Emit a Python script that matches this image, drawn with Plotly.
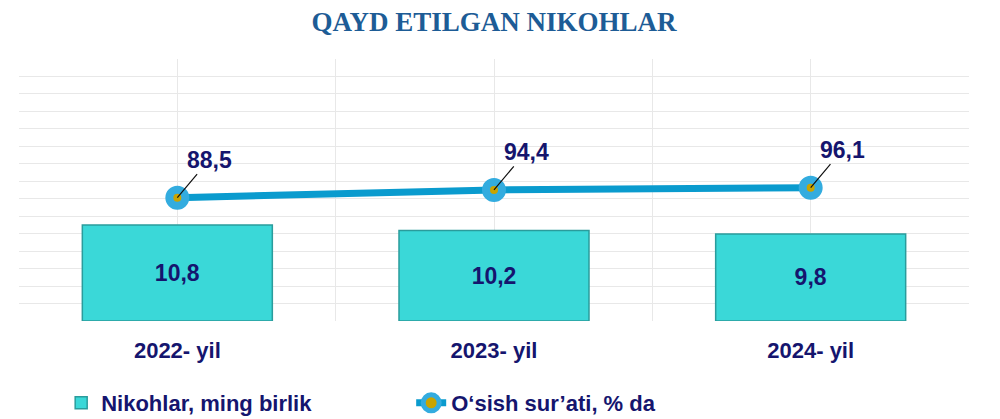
import plotly.graph_objects as go

# ---- data ----
categories = ["2022- yil", "2023- yil", "2024- yil"]
marriages = [10.8, 10.2, 9.8]          # Nikohlar, ming birlik
growth = [88.5, 94.4, 96.1]            # O'sish sur'ati, % da

bar_name = "Nikohlar, ming birlik"
line_name = "O\u2018sish sur\u2019ati, % da"
title_text = "QAYD ETILGAN NIKOHLAR"

NAVY = "#15156E"
FONT = "Liberation Sans, Arial, sans-serif"
GRID = "#E8E8E8"

fig = go.Figure()

fig.add_trace(go.Bar(
    x=categories, y=marriages, name=bar_name,
    width=0.6,
    marker=dict(color="#3AD8D8", line=dict(color="#2A9C9C", width=1.5)),
    texttemplate="%{y:.1f}", textposition="inside", insidetextanchor="middle",
    textangle=0,
    textfont=dict(family=FONT, size=23, color=NAVY, weight="bold"),
    xaxis="x", yaxis="y",
))

fig.add_trace(go.Scatter(
    x=categories, y=growth, name=line_name, mode="lines+markers",
    line=dict(color="#0A9BCE", width=7),
    marker=dict(size=16, color="#C9A400", line=dict(color="#33ACDF", width=8)),
    xaxis="x2", yaxis="y2",
))

for c, v in zip(categories, growth):
    fig.add_annotation(
        x=c, y=v, xref="x2", yref="y2",
        text=f"{v:.1f}".replace(".", ","),
        showarrow=True, arrowhead=0, arrowwidth=1.2, arrowcolor="#111111",
        ax=32, ay=-38, standoff=0,
        font=dict(family=FONT, size=23, color=NAVY, weight="bold"),
    )

W, H = 992, 411   # page body has an 8px margin
fig.update_layout(
    width=W, height=H,
    margin=dict(l=11, r=31, t=51, b=98, autoexpand=False),
    paper_bgcolor="white", plot_bgcolor="white",
    separators=", ",
    title=dict(text=title_text, x=0.5, xanchor="center", xref="paper",
               y=1 - 14 / H, yref="container", yanchor="middle",
               automargin=False,
               font=dict(family="Liberation Serif, Times New Roman, serif",
                         size=27, color="#1D5C96", weight="bold")),
    showlegend=True,
    legend=dict(orientation="h", x=0.0444, xanchor="left", y=-0.313, yanchor="middle",
                entrywidth=305, entrywidthmode="pixels",
                font=dict(family=FONT, size=22, color=NAVY, weight="bold"),
                bgcolor="rgba(0,0,0,0)"),
    xaxis=dict(type="category", range=[-0.5, 2.5], tickson="boundaries",
               showgrid=True, gridcolor=GRID, gridwidth=1, automargin=False,
               ticks="", ticklabelstandoff=14,
               showline=False, zeroline=False,
               tickfont=dict(family=FONT, size=22, color=NAVY, weight="bold")),
    xaxis2=dict(type="category", overlaying="x", range=[-0.5, 2.5],
                showgrid=True, gridcolor=GRID, gridwidth=1, automargin=False,
                showticklabels=False, ticks="", showline=False, zeroline=False,
                anchor="y2", side="bottom"),
    yaxis=dict(range=[0, 29.5], tick0=0, dtick=29.5 / 15, automargin=False,
               showgrid=True, gridcolor=GRID, gridwidth=1,
               showticklabels=False, zeroline=False, showline=False),
    yaxis2=dict(range=[-5.2, 193.9], overlaying="y", anchor="x2", automargin=False,
                showgrid=False, showticklabels=False, zeroline=False, showline=False),
)

fig.write_html("out.html")
